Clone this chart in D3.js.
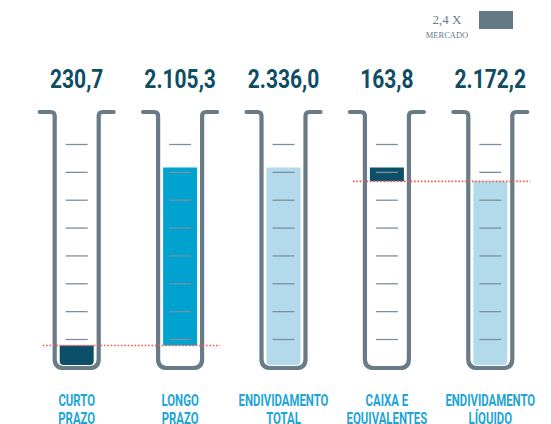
<!DOCTYPE html>
<html><head><meta charset="utf-8">
<script src="https://cdn.jsdelivr.net/npm/d3@7"></script>
<style>html,body{margin:0;padding:0;background:#fff;}svg{display:block;}</style>
</head><body>
<svg id="chart" width="551" height="424"></svg>
<script>
const categories = [["CURTO","PRAZO"],["LONGO","PRAZO"],["ENDIVIDAMENTO","TOTAL"],["CAIXA E","EQUIVALENTES"],["ENDIVIDAMENTO","LÍQUIDO"]];
const values = [230.7, 2105.3, 2336.0, 163.8, 2172.2];
const valueLabels = ["230,7","2.105,3","2.336,0","163,8","2.172,2"];
const barStart = [0, 230.7, 0, 2172.2, 0];
const barEnd = [230.7, 2336.0, 2336.0, 2336.0, 2172.2];
const barColors = ["#0b4f69","#00a2cf","#b2daeb","#0b4f69","#b2daeb"];
const refLines = [{value:230.7, from:0, to:1}, {value:2172.2, from:3, to:4}];
const legendValue = "2,4 X";
const legendLabel = "MERCADO";

const svg = d3.select("#chart");
const x = d3.scaleBand().domain(d3.range(categories.length)).range([25, 542]);
const cx = i => x(i) + x.bandwidth()/2;
const y = d3.scaleLinear().domain([0, 2336]).range([365, 167.5]);

const wallColor = "#687b87";
const tubeTop = 112, tubeBottom = 368, wallHalf = 22, hook = 15, r = 9;

// fills
const fillHalf = 17;
barStart.forEach((s, i) => {
  const x0 = cx(i) - fillHalf, x1 = cx(i) + fillHalf;
  const yt = y(barEnd[i]), yb = y(s);
  const p = d3.path();
  const rr = s === 0 ? 4 : 0;
  p.moveTo(x0, yt);
  p.lineTo(x1, yt);
  p.lineTo(x1, yb - rr);
  if (rr) p.quadraticCurveTo(x1, yb, x1 - rr, yb);
  p.lineTo(x0 + rr, yb);
  if (rr) p.quadraticCurveTo(x0, yb, x0, yb - rr);
  p.closePath();
  svg.append("path").attr("d", p.toString()).attr("fill", barColors[i]);
});

// tick marks
const tickY = d3.scaleLinear().domain([0, 7]).range([144.5, 339.5]);
categories.forEach((c, i) => {
  svg.append("g").selectAll("line").data(d3.range(8)).join("line")
    .attr("x1", cx(i) - 11).attr("x2", cx(i) + 11)
    .attr("y1", d => tickY(d)).attr("y2", d => tickY(d))
    .attr("stroke", "#7e8f99").attr("stroke-width", 1.3);
});

// tubes
categories.forEach((c, i) => {
  const c0 = cx(i);
  const L = c0 - wallHalf, R = c0 + wallHalf;
  const p = d3.path();
  p.moveTo(L - hook, tubeTop);
  p.lineTo(L - 4, tubeTop);
  p.quadraticCurveTo(L, tubeTop, L, tubeTop + 4);
  p.lineTo(L, tubeBottom - r);
  p.quadraticCurveTo(L, tubeBottom, L + r, tubeBottom);
  p.lineTo(R - r, tubeBottom);
  p.quadraticCurveTo(R, tubeBottom, R, tubeBottom - r);
  p.lineTo(R, tubeTop + 4);
  p.quadraticCurveTo(R, tubeTop, R + 4, tubeTop);
  p.lineTo(R + hook, tubeTop);
  svg.append("path").attr("d", p.toString()).attr("fill", "none")
    .attr("stroke", wallColor).attr("stroke-width", 4.2).attr("stroke-linecap", "round");
});

// reference lines
refLines.forEach(rl => {
  svg.append("line")
    .attr("x1", cx(rl.from) - 34).attr("x2", cx(rl.to) + 40)
    .attr("y1", y(rl.value)).attr("y2", y(rl.value))
    .attr("stroke", "#f0584c").attr("stroke-width", 1.6)
    .attr("stroke-dasharray", "1.6,1.8");
});

// value labels
valueLabels.forEach((v, i) => {
  svg.append("text")
    .attr("transform", `translate(${cx(i)},88) scale(0.84,1)`)
    .attr("text-anchor", "middle")
    .attr("font-family", "Roboto, 'Liberation Sans', sans-serif")
    .attr("font-weight", 700).attr("font-size", 25)
    .attr("fill", "#0e4d64").text(v);
});

// category labels
categories.forEach((lines, i) => {
  lines.forEach((t, j) => {
    svg.append("text")
      .attr("transform", `translate(${cx(i)},${405.5 + j*18}) scale(0.67,1)`)
      .attr("text-anchor", "middle")
      .attr("font-family", "Roboto, 'Liberation Sans', sans-serif")
      .attr("font-weight", 700).attr("font-size", 17)
      .attr("fill", "#1ea5d6").text(t);
  });
});

// legend
svg.append("text").attr("x", 447).attr("y", 24).attr("text-anchor", "middle")
  .attr("font-family", "'Liberation Serif', serif").attr("font-size", 13)
  .attr("fill", "#6b7a86").text(legendValue);
svg.append("text").attr("x", 447).attr("y", 38).attr("text-anchor", "middle")
  .attr("font-family", "'Liberation Serif', serif").attr("font-size", 8.5)
  .attr("fill", "#6b7a86").text(legendLabel);
svg.append("rect").attr("x", 479).attr("y", 11).attr("width", 34).attr("height", 18)
  .attr("fill", "#637986");
</script>
</body></html>
